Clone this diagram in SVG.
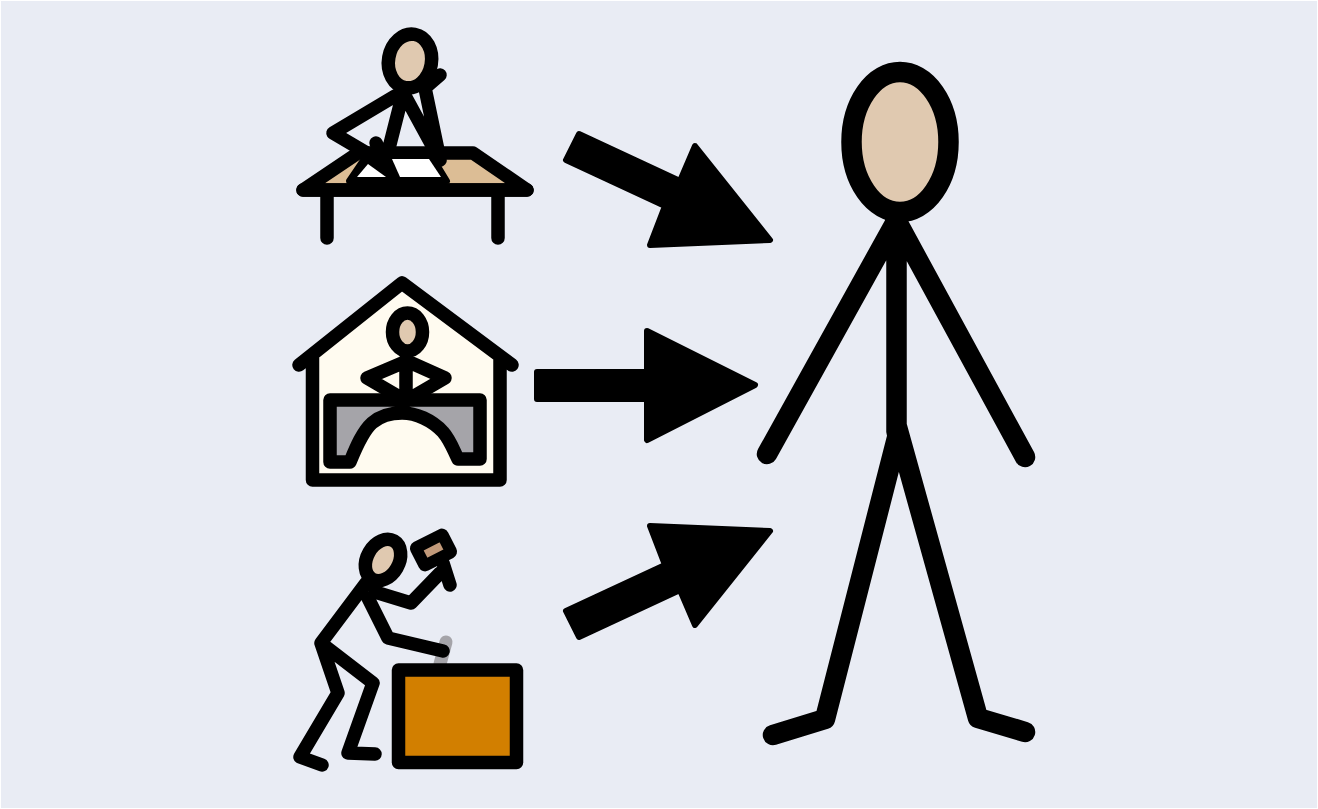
<svg xmlns="http://www.w3.org/2000/svg" width="1318" height="809" viewBox="0 0 1318 809">
<style>
.l{fill:none;stroke:#000;stroke-linecap:round;stroke-linejoin:round}
.s{stroke:#000;stroke-linecap:round;stroke-linejoin:round}
.skin{fill:#e0c9b0}
.a{fill:#000;stroke:#000;stroke-width:6;stroke-linejoin:round}
</style>
<rect x="1" y="1" width="1316" height="807" fill="#e9ecf4"/>
<g id="desk-figure">
<path d="M303 190L358 153H473L527 190Z" fill="#dcbd95" class="s" stroke-width="13.500"/>
<path d="M349 181L368 153H430L447 181Z" fill="#000" class="s" stroke-width="6"/>
<path d="M392 159H429L441 177H400Z" fill="#fff"/>
<path d="M357 177L368 164L386 177Z" fill="#fff"/>
<path class="l" stroke-width="13.500" d="M327 192V238M498 192V238M303 190H527"/>
<ellipse class="s skin" cx="410" cy="61" rx="21.500" ry="27" transform="rotate(10 410 61)" stroke-width="13.500"/>
<path class="l" stroke-width="13.500" d="M395 96L333 133L372 156M403 93L388 152M404 94L440 160L425 88L440 75M376 143L386 164"/>
</g>
<g id="house-figure">
<path d="M312.500 358L402 292L500 358V480H312.500Z" fill="#fffbf0"/>
<path class="l" stroke-width="13.500" d="M299 365L402 283L512 365M312.500 358V480H500V358"/>
<path class="s" fill="#a5a4a9" stroke-width="13.500" d="M330 400H480V459H458C453 449 450 440 443 432C432 420 416 413 402 413C392 413 380 416 372 423C362 432 355 450 350 462H330Z"/>
<ellipse class="s skin" cx="407.500" cy="332" rx="15" ry="19" stroke-width="13.500"/>
<path class="l" stroke-width="13.500" d="M406 358V398M407 361L367 378L403 399M407 361L445 378L409 399"/>
</g>
<g id="hammer-figure">
<path class="l" style="stroke:#a5a4a9" stroke-width="13" d="M446 642L440 664"/>
<rect x="398.500" y="670" width="118" height="92.500" fill="#d27f00" class="s" stroke-width="13.500"/>
<ellipse class="s skin" cx="383" cy="560" rx="16" ry="22" transform="rotate(30 383 560)" stroke-width="13.500"/>
<path class="l" stroke-width="13.500" d="M366 583L321 643L338 693L300 757L322 765M321 643L373 683L348 753L375 754M375 592L411 603L440 573M443 563L450 585M368 598L388 638L443 651"/>
<rect x="418.500" y="540" width="30" height="20" rx="1" transform="rotate(-27 433.500 550)" fill="#c29a7a" class="s" stroke-width="12"/>
</g>
<g id="person">
<path class="l" stroke-width="20.500" d="M896.500 222V432M898 218L767 454M895 218L1025 457M898 434L825 719L773 735M897 427L978 718L1025 732"/>
<ellipse class="s skin" cx="900" cy="142" rx="48.500" ry="70" stroke-width="20.500"/>
</g>
<g id="connectors">
<path class="a" d="M579 134L680 181L695 146L770 240L650 245L665 206L566 160Z"/>
<path class="a" d="M537 372H647V331L755 385L647 440V399H537Z"/>
<path class="a" d="M579 637L680 590L695 625L770 531L650 526L665 565L566 611Z"/>
</g>
</svg>
